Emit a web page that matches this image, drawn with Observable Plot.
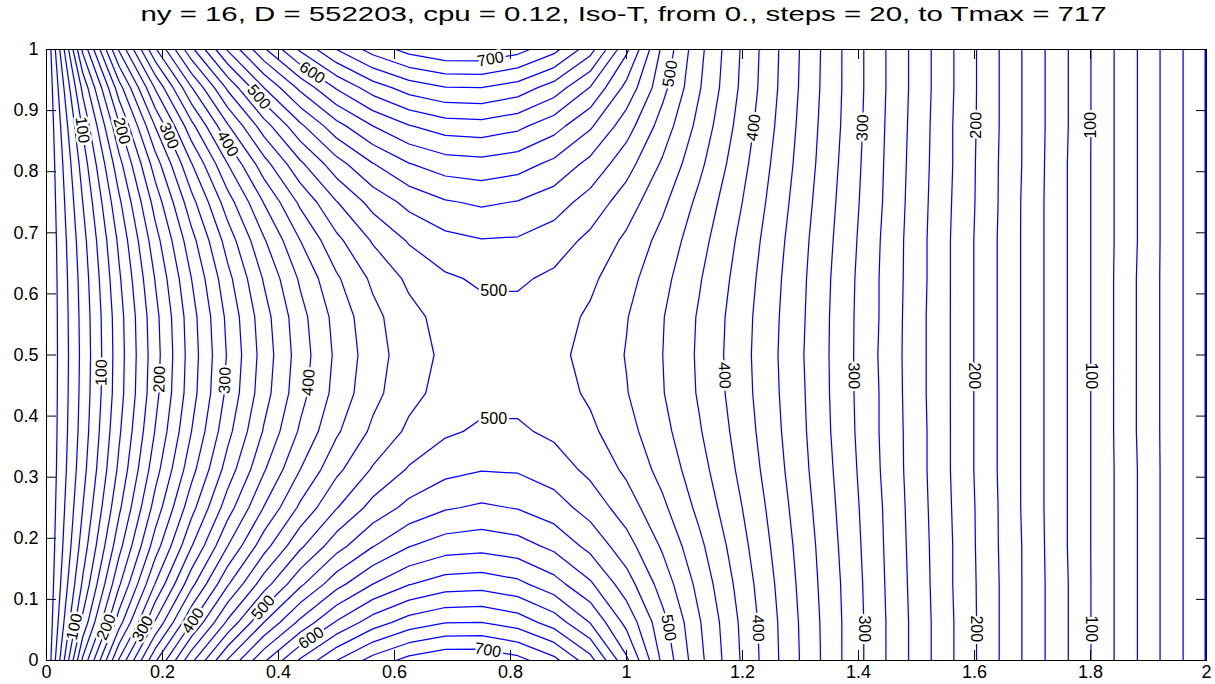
<!DOCTYPE html>
<html><head><meta charset="utf-8">
<script src="https://cdn.jsdelivr.net/npm/d3@7"></script>
<script src="https://cdn.jsdelivr.net/npm/@observablehq/plot@0.6"></script>
<style>
html,body{margin:0;padding:0;background:#fff;}
#wrap{position:relative;width:1215px;height:684px;}
#title{position:absolute;left:0;top:2px;width:1247px;text-align:center;font-family:"Liberation Sans",Arial,sans-serif;font-size:21px;color:#000;white-space:nowrap;transform:scaleX(1.4);transform-origin:623.5px 0;}
</style></head><body>
<div id="wrap"><div id="title"></div><div id="chart"></div></div>
<script>
// Title
const titleText = "ny = 16, D = 552203, cpu = 0.12, Iso-T, from 0., steps = 20, to Tmax = 717";

// Grid: x from 0 to 2 (32 cells), y from 0 to 1 (16 cells); field symmetric about y = 0.5
const xMin = 0, xMax = 2, yMin = 0, yMax = 1, nx = 32, ny = 16;

// Temperature on grid rows y = 0, 1/16, ..., 8/16 (x = 0, 1/16, ..., 2)
const tRow0 = [0,164,282,377,455,522,577,623,660,688,707,717,717,707,686,648,584,515,466,425,387,352,318,285,253,221,189,157,126,94,63,31,0];
const tRow1 = [0,125,231,322,399,464,520,565,602,630,649,659,660,651,631,599,554,506,462,423,386,351,318,285,253,221,189,157,126,94,63,31,0];
const tRow2 = [0,103,197,281,354,418,471,516,553,580,599,610,612,605,588,563,529,491,454,418,383,349,317,284,252,220,189,157,126,94,63,31,0];
const tRow3 = [0,89,173,250,319,380,432,476,512,539,559,570,573,568,555,534,508,477,445,412,379,347,315,283,251,220,188,157,125,94,63,31,0];
const tRow4 = [0,80,156,228,293,351,401,444,479,507,526,538,543,539,529,512,490,464,435,406,375,344,313,282,250,219,188,156,125,94,63,31,0];
const tRow5 = [0,73,144,212,273,329,378,420,455,482,502,514,519,518,510,495,476,453,428,400,371,341,311,280,249,218,187,156,125,94,63,31,0];
const tRow6 = [0,69,137,201,260,314,362,403,437,464,484,497,503,503,496,484,467,446,422,396,368,339,309,279,249,218,187,156,125,94,62,31,0];
const tRow7 = [0,67,132,194,252,305,352,393,427,454,474,487,494,494,488,477,461,441,418,393,366,338,308,279,248,218,187,156,125,94,62,31,0];
const tRow8 = [0,66,131,192,250,302,349,390,424,451,471,484,491,491,485,474,459,440,417,392,365,337,308,278,248,218,187,156,125,94,62,31,0];

// Isotherm levels (from 0 in steps of 20)
const levels = [20,40,60,80,100,120,140,160,180,200,220,240,260,280,300,320,340,360,380,400,420,440,460,480,500,520,540,560,580,600,620,640,660,680,700];

// Axis ticks
const xTicks = [0,0.2,0.4,0.6,0.8,1,1.2,1.4,1.6,1.8,2];
const yTicks = [0,0.1,0.2,0.3,0.4,0.5,0.6,0.7,0.8,0.9,1];

// Contour labels: level, approximate location, reading direction (d = downward, u = upward, r = rightward)
const labLevel = [100,200,300,400,500,600,700, 500,400,300,200,100, 100,200,300,400,500,500,400,300,200,100, 100,200,300,400,500,600,700, 500,400,300,200,100];
const labX = [0.05,0.119,0.205,0.303,0.36,0.455,0.766, 1.072,1.222,1.407,1.605,1.803, 0.102,0.202,0.317,0.452,0.771,0.771,1.155,1.388,1.597,1.8, 0.053,0.105,0.171,0.253,0.378,0.464,0.76, 1.064,1.209,1.4,1.593,1.802];
const labY = [0.867,0.864,0.856,0.84,0.917,0.957,0.98, 0.961,0.872,0.872,0.876,0.876, 0.471,0.46,0.458,0.455,0.61,0.38,0.466,0.466,0.466,0.466, 0.054,0.054,0.049,0.065,0.082,0.025,0.013, 0.052,0.052,0.052,0.052,0.052];
const labDir = ["d","d","d","d","d","d","r", "u","u","u","u","u", "u","u","u","u","r","r","d","d","d","d", "u","u","u","u","u","u","r", "d","d","d","d","d"];

// Build the full grid (rows y = 0 .. 1) by mirroring the lower half
const half = [tRow0,tRow1,tRow2,tRow3,tRow4,tRow5,tRow6,tRow7,tRow8];
const G = [];
for (let j = 0; j <= ny; j++) G.push(half[j <= ny/2 ? j : ny - j]);
const flat = [].concat(...G);
const NX = nx + 1, NY = ny + 1;
const hx = (xMax - xMin)/nx, hy = (yMax - yMin)/ny;

document.getElementById("title").textContent = titleText;

function field(x, y){
  const fx = (x - xMin)/hx, fy = (y - yMin)/hy;
  const i = Math.min(NX-2, Math.max(0, Math.floor(fx))), j = Math.min(NY-2, Math.max(0, Math.floor(fy)));
  const u = fx - i, v = fy - j;
  const a = G[j][i], b = G[j][i+1], c = G[j+1][i], d = G[j+1][i+1];
  return {v: a*(1-u)*(1-v) + b*u*(1-v) + c*(1-u)*v + d*u*v,
          gx: ((b-a)*(1-v) + (d-c)*v)/hx, gy: ((c-a)*(1-u) + (d-b)*u)/hy};
}

const W = 1215, H = 684, mL = 46, mR = 9, mT = 49, mB = 24;
const kx = (W - mL - mR)/(xMax - xMin), ky = (H - mT - mB)/(yMax - yMin);
const frameW = W - mL - mR, frameH = H - mT - mB, tickLen = 10;

// snap each label onto its isotherm and orient it along the line
const labels = labLevel.map((L, k) => {
  let x = labX[k], y = labY[k];
  for (let n = 0; n < 10; n++) {
    const f = field(x, y); const g2 = f.gx*f.gx + f.gy*f.gy; if (g2 < 1e-9) break;
    x += (L - f.v)*f.gx/g2; y += (L - f.v)*f.gy/g2;
  }
  const f = field(x, y);
  const sx = f.gx/kx, sy = -f.gy/ky;
  let tx = -sy, ty = sx;
  const dir = labDir[k];
  if ((dir === "d" && ty < 0) || (dir === "u" && ty > 0) || (dir === "r" && tx < 0)) { tx = -tx; ty = -ty; }
  return {x, y, text: String(L), rotate: Math.atan2(ty, tx)*180/Math.PI};
});

const plot = Plot.plot({
  width: W, height: H, marginLeft: mL, marginRight: mR, marginTop: mT, marginBottom: mB,
  style: {fontFamily: '"Liberation Sans",Arial,sans-serif', background: "white", color: "black"},
  x: {domain: [xMin, xMax]}, y: {domain: [yMin, yMax]},
  marks: [
    Plot.contour(flat, {width: NX, height: NY, x1: xMin - hx/2, x2: xMax + hx/2, y1: yMin - hy/2, y2: yMax + hy/2,
      value: Plot.identity, thresholds: levels, stroke: "#0000ff", fill: "none", strokeWidth: 1.25, clip: true}),
    Plot.frame({stroke: "black"}),
    Plot.ruleX([xMax], {x: d => d, stroke: "#0000ff", strokeWidth: 2, dx: -1}),
    Plot.ruleX(xTicks, {x: d => d, insetTop: frameH - tickLen, stroke: "black"}),
    Plot.ruleX(xTicks, {x: d => d, insetBottom: frameH - tickLen, stroke: "black"}),
    Plot.ruleY(yTicks, {y: d => d, insetRight: frameW - tickLen, stroke: "black"}),
    Plot.ruleY(yTicks, {y: d => d, insetLeft: frameW - tickLen, stroke: "black"}),
    Plot.text(labels, {x: "x", y: "y", text: "text", rotate: "rotate", fontSize: 16, fill: "black", stroke: "white", strokeWidth: 5, paintOrder: "stroke"}),
    Plot.axisX(xTicks, {anchor: "bottom", tickSize: 0, tickPadding: 5, fontSize: 18, tickFormat: d => String(d), label: null}),
    Plot.axisY(yTicks, {anchor: "left", tickSize: 0, tickPadding: 8, fontSize: 18, tickFormat: d => String(d), label: null})
  ]
});
document.getElementById("chart").appendChild(plot);
</script></body></html>
